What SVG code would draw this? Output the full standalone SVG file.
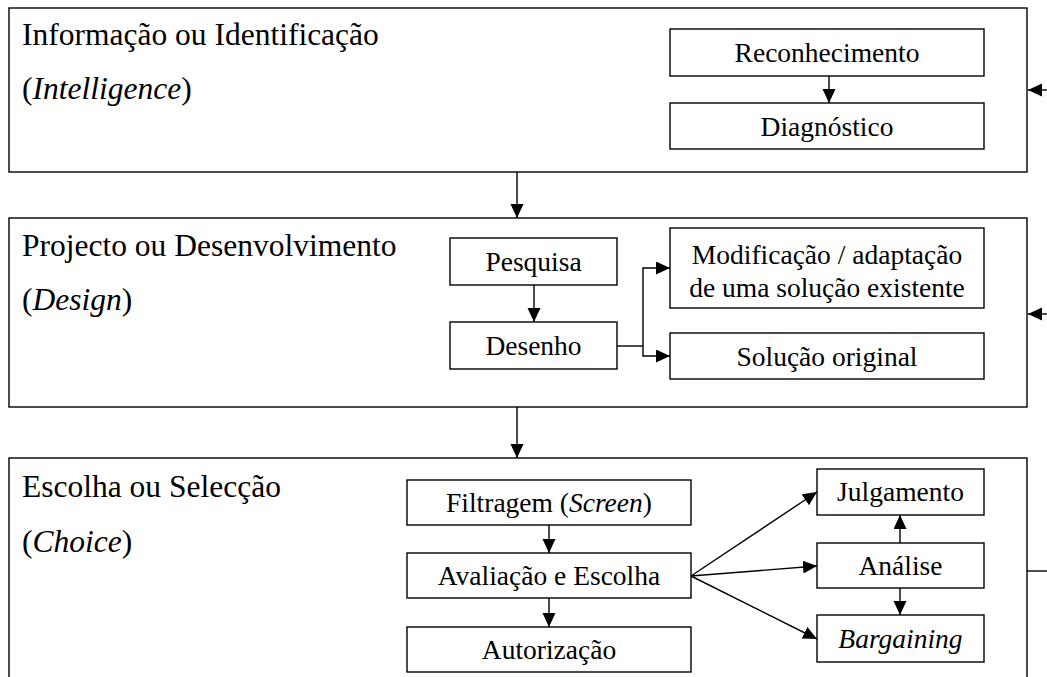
<svg xmlns="http://www.w3.org/2000/svg" width="1047" height="677" viewBox="0 0 1047 677">
<style>
  .frame { fill: #fff; stroke: #000; stroke-width: 1.4; }
  .box { fill: #fff; stroke: #000; stroke-width: 1.4; }
  .title { font-family: "Liberation Serif", "Times New Roman", serif; font-size: 31.5px; fill: #000; }
  .lbl { font-family: "Liberation Serif", "Times New Roman", serif; font-size: 27.5px; fill: #000; text-anchor: middle; }
  .conn { fill: none; stroke: #000; stroke-width: 1.4; }
  .arr { marker-end: url(#ah); }
</style>
<defs>
  <marker id="ah" markerUnits="userSpaceOnUse" markerWidth="16" markerHeight="14" refX="14" refY="6.5" orient="auto">
    <path d="M0,0 L14,6.5 L0,13 z" fill="#000"/>
  </marker>
</defs>
<rect width="1047" height="677" fill="#fff"/>

<g id="phase-intelligence">
  <rect class="frame" x="9" y="8" width="1018" height="164"/>
  <text class="title" x="22" y="45">Informação ou Identificação</text>
  <text class="title" x="22" y="99">(<tspan font-style="italic">Intelligence</tspan>)</text>
</g>
<g id="phase-design">
  <rect class="frame" x="9" y="218" width="1018" height="189"/>
  <text class="title" x="22" y="256">Projecto ou Desenvolvimento</text>
  <text class="title" x="22" y="310">(<tspan font-style="italic">Design</tspan>)</text>
</g>
<g id="phase-choice">
  <rect class="frame" x="9" y="458" width="1018" height="240"/>
  <text class="title" x="22" y="497">Escolha ou Selecção</text>
  <text class="title" x="22" y="552">(<tspan font-style="italic">Choice</tspan>)</text>
</g>

<g id="reconhecimento">
  <rect class="box" x="670" y="29" width="314" height="47"/>
  <text class="lbl" x="827" y="62">Reconhecimento</text>
</g>
<g id="diagnostico">
  <rect class="box" x="670" y="103" width="314" height="46"/>
  <text class="lbl" x="827" y="136">Diagnóstico</text>
</g>

<g id="pesquisa">
  <rect class="box" x="450" y="238" width="167" height="47"/>
  <text class="lbl" x="533.5" y="271">Pesquisa</text>
</g>
<g id="desenho">
  <rect class="box" x="450" y="322" width="167" height="47"/>
  <text class="lbl" x="533.5" y="355">Desenho</text>
</g>
<g id="modificacao">
  <rect class="box" x="670" y="228" width="314" height="80"/>
  <text class="lbl" x="827" y="264">Modificação / adaptação</text>
  <text class="lbl" x="827" y="297">de uma solução existente</text>
</g>
<g id="solucao-original">
  <rect class="box" x="670" y="333" width="314" height="46"/>
  <text class="lbl" x="827" y="366">Solução original</text>
</g>

<g id="filtragem">
  <rect class="box" x="407" y="480" width="284" height="45"/>
  <text class="lbl" x="549" y="512">Filtragem (<tspan font-style="italic">Screen</tspan>)</text>
</g>
<g id="avaliacao">
  <rect class="box" x="407" y="553" width="284" height="45"/>
  <text class="lbl" x="549" y="585">Avaliação e Escolha</text>
</g>
<g id="autorizacao">
  <rect class="box" x="407" y="627" width="284" height="45"/>
  <text class="lbl" x="549" y="659">Autorização</text>
</g>
<g id="julgamento">
  <rect class="box" x="817" y="469" width="167" height="46"/>
  <text class="lbl" x="900.5" y="501">Julgamento</text>
</g>
<g id="analise">
  <rect class="box" x="817" y="543" width="167" height="45"/>
  <text class="lbl" x="900.5" y="575">Análise</text>
</g>
<g id="bargaining">
  <rect class="box" x="817" y="615" width="167" height="47"/>
  <text class="lbl" x="900.5" y="648" font-style="italic">Bargaining</text>
</g>

<g id="connectors">
  <line class="conn arr" x1="829" y1="76" x2="829" y2="103"/>
  <line class="conn arr" x1="1047" y1="90" x2="1028" y2="90"/>
  <line class="conn arr" x1="517" y1="172" x2="517" y2="218"/>
  <line class="conn arr" x1="534" y1="285" x2="534" y2="322"/>
  <polyline class="conn" points="617,346 643,346"/>
  <polyline class="conn arr" points="643,346 643,268 670,268"/>
  <polyline class="conn arr" points="643,346 643,356 670,356"/>
  <line class="conn arr" x1="1047" y1="314" x2="1028" y2="314"/>
  <line class="conn arr" x1="517" y1="407" x2="517" y2="458"/>
  <line class="conn arr" x1="549" y1="525" x2="549" y2="553"/>
  <line class="conn arr" x1="549" y1="598" x2="549" y2="627"/>
  <line class="conn arr" x1="691" y1="576" x2="817" y2="492"/>
  <line class="conn arr" x1="691" y1="576" x2="817" y2="566"/>
  <line class="conn arr" x1="691" y1="576" x2="817" y2="639"/>
  <line class="conn arr" x1="900" y1="543" x2="900" y2="515"/>
  <line class="conn arr" x1="900" y1="588" x2="900" y2="615"/>
  <line class="conn" x1="1027" y1="571" x2="1047" y2="571"/>
</g>
</svg>
